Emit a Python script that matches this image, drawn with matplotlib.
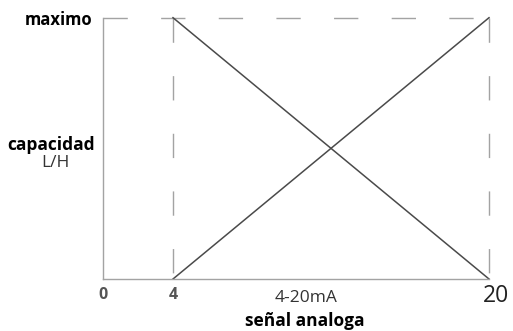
import matplotlib
matplotlib.use("Agg")
import matplotlib.pyplot as plt
import matplotlib.transforms as mtrans

# ---- data ----
x_signal = [4, 20]            # 4-20 mA range
falling = [1, 0]              # capacity from maximo down to 0
rising = [0, 1]               # capacity from 0 up to maximo
x_ticks = [0, 4, 20]
x_tick_labels = ["0", "4", "20"]
y_max = 1
y_max_label = "maximo"

plt.rcParams['font.family'] = ['Open Sans', 'DejaVu Sans']
plt.rcParams['lines.scale_dashes'] = False

W, H = 513, 331
fig = plt.figure(figsize=(W / 100, H / 100), dpi=100)
L, R, T, B = 103, 489, 17.7, 279
ax = fig.add_axes([L / W, 1 - B / H, (R - L) / W, (B - T) / H])

x_left = 4 - (173 - L) / ((R - 173) / 16)
ax.set_xlim(x_left, 20)
ax.set_ylim(0, y_max)

spine_col = "#a3a3a3"
line_col = "#4a4a4a"
dash = (0, (17.5, 24))

for s in ["top", "right"]:
    ax.spines[s].set_visible(False)
for s in ["left", "bottom"]:
    ax.spines[s].set_color(spine_col)
    ax.spines[s].set_linewidth(1.0)

# dashed guides
ax.plot([x_left, 20], [y_max, y_max], color=spine_col, lw=1.0, ls=dash, clip_on=False)
ax.plot([20, 20], [y_max, 0], color=spine_col, lw=1.0, ls=dash, clip_on=False)
ax.plot([4, 4], [y_max, 0], color=spine_col, lw=1.0, ls=dash, clip_on=False)

# characteristic lines
ax.plot(x_signal, falling, color=line_col, lw=1.1, clip_on=False)
ax.plot(x_signal, rising, color=line_col, lw=1.1, clip_on=False)

# ticks
ax.set_xticks([x_left, 4, 20])
ax.set_xticklabels(x_tick_labels)
ax.tick_params(axis="x", length=0, pad=6)
labs = ax.get_xticklabels()
for lab in labs[:2]:
    lab.set_fontsize(11.5)
    lab.set_fontweight("bold")
    lab.set_color("#555555")
labs[2].set_fontsize(16.5)
labs[2].set_color("#222222")
labs[2].set_transform(labs[2].get_transform() +
                      mtrans.ScaledTranslation(7 / 100, 3 / 100, fig.dpi_scale_trans))

ax.set_yticks([y_max])
ax.set_yticklabels([y_max_label], fontsize=12, fontweight="bold")
ax.tick_params(axis="y", length=0, pad=8)

# axis titles
def fx(px):
    return px / W

def fy(py):
    return 1 - py / H

fig.text(fx(51), fy(145), "capacidad", fontsize=12.5, fontweight="bold",
         ha="center", va="center")
fig.text(fx(55), fy(163), "L/H", fontsize=12.5, ha="center", va="center",
         color="#333333")
fig.text(fx(306), fy(298), "4-20mA", fontsize=12.5, ha="center", va="center",
         color="#333333")
fig.text(fx(305), fy(321), "señal analoga", fontsize=12.5, fontweight="bold",
         ha="center", va="center")

fig.savefig("out.png", dpi=100)
